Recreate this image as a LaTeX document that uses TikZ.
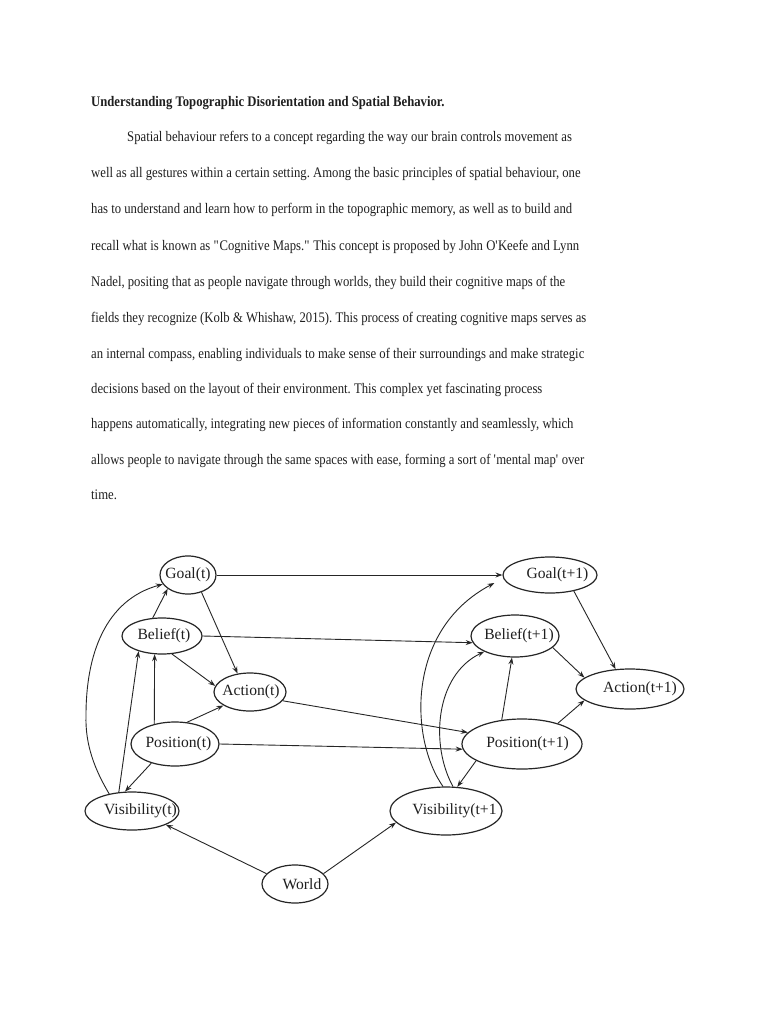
\documentclass[tikz,border=0pt]{standalone}
\usepackage{fontspec}
\setmainfont{Liberation Serif}
\newfontfamily\bodyfont{Liberation Serif}[FakeStretch=0.87]
\usetikzlibrary{shapes.geometric,arrows.meta,calc}
\begin{document}
\frenchspacing
\begin{tikzpicture}[x=1pt,y=-1pt,
  body/.style={anchor=base west,inner sep=0pt,text=black!88,font=\bodyfont\fontsize{14.6}{17}\selectfont},
  ell/.style={draw=black!85,ellipse,line width=1.2pt,inner sep=0pt},
  lbl/.style={inner sep=0pt,text=black!88,font=\fontsize{15.6}{18}\selectfont},
  arr/.style={draw=black!85,line width=0.9pt,-{Stealth[length=7pt,width=5pt,inset=2.5pt]}}]
\fill[white] (0,0) rectangle (768,1024);
\useasboundingbox (0,0) rectangle (768,1024);
% text
\node[body,font=\bodyfont\fontsize{14.6}{17}\selectfont\bfseries] (title) at (91,107) {Understanding Topographic Disorientation and Spatial Behavior.};
\node[body] (l1) at (127,142) {Spatial behaviour refers to a concept regarding the way our brain controls movement as};
\node[body] (l2) at (91,178) {well as all gestures within a certain setting. Among the basic principles of spatial behaviour, one};
\node[body] (l3) at (91,214) {has to understand and learn how to perform in the topographic memory, as well as to build and};
\node[body] (l4) at (91,250) {recall what is known as \textquotedbl Cognitive Maps.\textquotedbl{} This concept is proposed by John O\textquotesingle Keefe and Lynn};
\node[body] (l5) at (91,286) {Nadel, positing that as people navigate through worlds, they build their cognitive maps of the};
\node[body] (l6) at (91,322) {fields they recognize (Kolb \& Whishaw, 2015). This process of creating cognitive maps serves as};
\node[body] (l7) at (91,358) {an internal compass, enabling individuals to make sense of their surroundings and make strategic};
\node[body] (l8) at (91,393) {decisions based on the layout of their environment. This complex yet fascinating process};
\node[body] (l9) at (91,428) {happens automatically, integrating new pieces of information constantly and seamlessly, which};
\node[body] (l10) at (91,464) {allows people to navigate through the same spaces with ease, forming a sort of \textquotesingle mental map\textquotesingle{} over};
\node[body] (l11) at (91,499) {time.};
% ellipses
\node[ell,minimum width=56,minimum height=38] (g0) at (188,575) {};
\node[ell,minimum width=80,minimum height=36] (b0) at (162,636) {};
\node[ell,minimum width=72,minimum height=38] (a0) at (250,692) {};
\node[ell,minimum width=88,minimum height=44] (p0) at (175,744) {};
\node[ell,minimum width=94,minimum height=38] (v0) at (132,811) {};
\node[ell,minimum width=66,minimum height=38] (w) at (295,884) {};
\node[ell,minimum width=94,minimum height=36] (g1) at (550,575) {};
\node[ell,minimum width=88,minimum height=42] (b1) at (515,636) {};
\node[ell,minimum width=108,minimum height=40] (a1) at (630,689) {};
\node[ell,minimum width=120,minimum height=50] (p1) at (522,744) {};
\node[ell,minimum width=112,minimum height=48] (v1) at (446,811) {};
% labels
\node[lbl] (g0t) at (188,575) {Goal(t)};
\node[lbl] (b0t) at (164,636) {Belief(t)};
\node[lbl] (a0t) at (251,692) {Action(t)};
\node[lbl] (p0t) at (178.5,744) {Position(t)};
\node[lbl] (v0t) at (140.5,811) {Visibility(t)};
\node[lbl] (wt) at (302,884) {World};
\node[lbl] (g1t) at (557.5,575) {Goal(t+1)};
\node[lbl] (b1t) at (519,636) {Belief(t+1)};
\node[lbl] (a1t) at (640,689) {Action(t+1)};
\node[lbl] (p1t) at (527.5,744) {Position(t+1)};
\node[lbl] (v1t) at (454.5,811) {Visibility(t+1};
% edges
\draw[arr] (g0.east) -- (g1.west);
\draw[arr] (b0.east) -- (b1.189);
\draw[arr] (a0.-15) -- (p1.168);
\draw[arr] (p0.east) -- (p1.185);
\draw[arr] (g0.-52) -- (a0.124);
\draw[arr] (b0.117) -- (g0.214);
\draw[arr] (b0.-61) -- (a0.170);
\draw[arr] (p0.61) -- (a0.207);
\draw[arr] (p0.136) -- (b0.248);
\draw[arr] (v0.125) -- (b0.213);
\draw[arr] (v0.143) .. controls (95,770) and (85,745) .. (86,715) .. controls (86,655) and (105,600) .. (g0.200);
\draw[arr] (p0.219) -- (v0.110);
\draw[arr] (w.160) -- (v0.-22);
\draw[arr] (w.20) -- (v1.193);
\draw[arr] (g1.-34) -- (a1.126);
\draw[arr] (b1.-17) -- (a1.166);
\draw[arr] (p1.30) -- (a1.194);
\draw[arr] (p1.130) -- (b1.262);
\draw[arr] (p1.200) -- (v1.65);
\coordinate (g1tip) at ($(g1.west)+(-8,8)$);
\draw[arr] (v1.97) .. controls (410,740) and (405,630) .. (g1tip);
\draw[arr] (v1.74) .. controls (430,745) and (435,675) .. (b1.207);
\end{tikzpicture}
\end{document}
